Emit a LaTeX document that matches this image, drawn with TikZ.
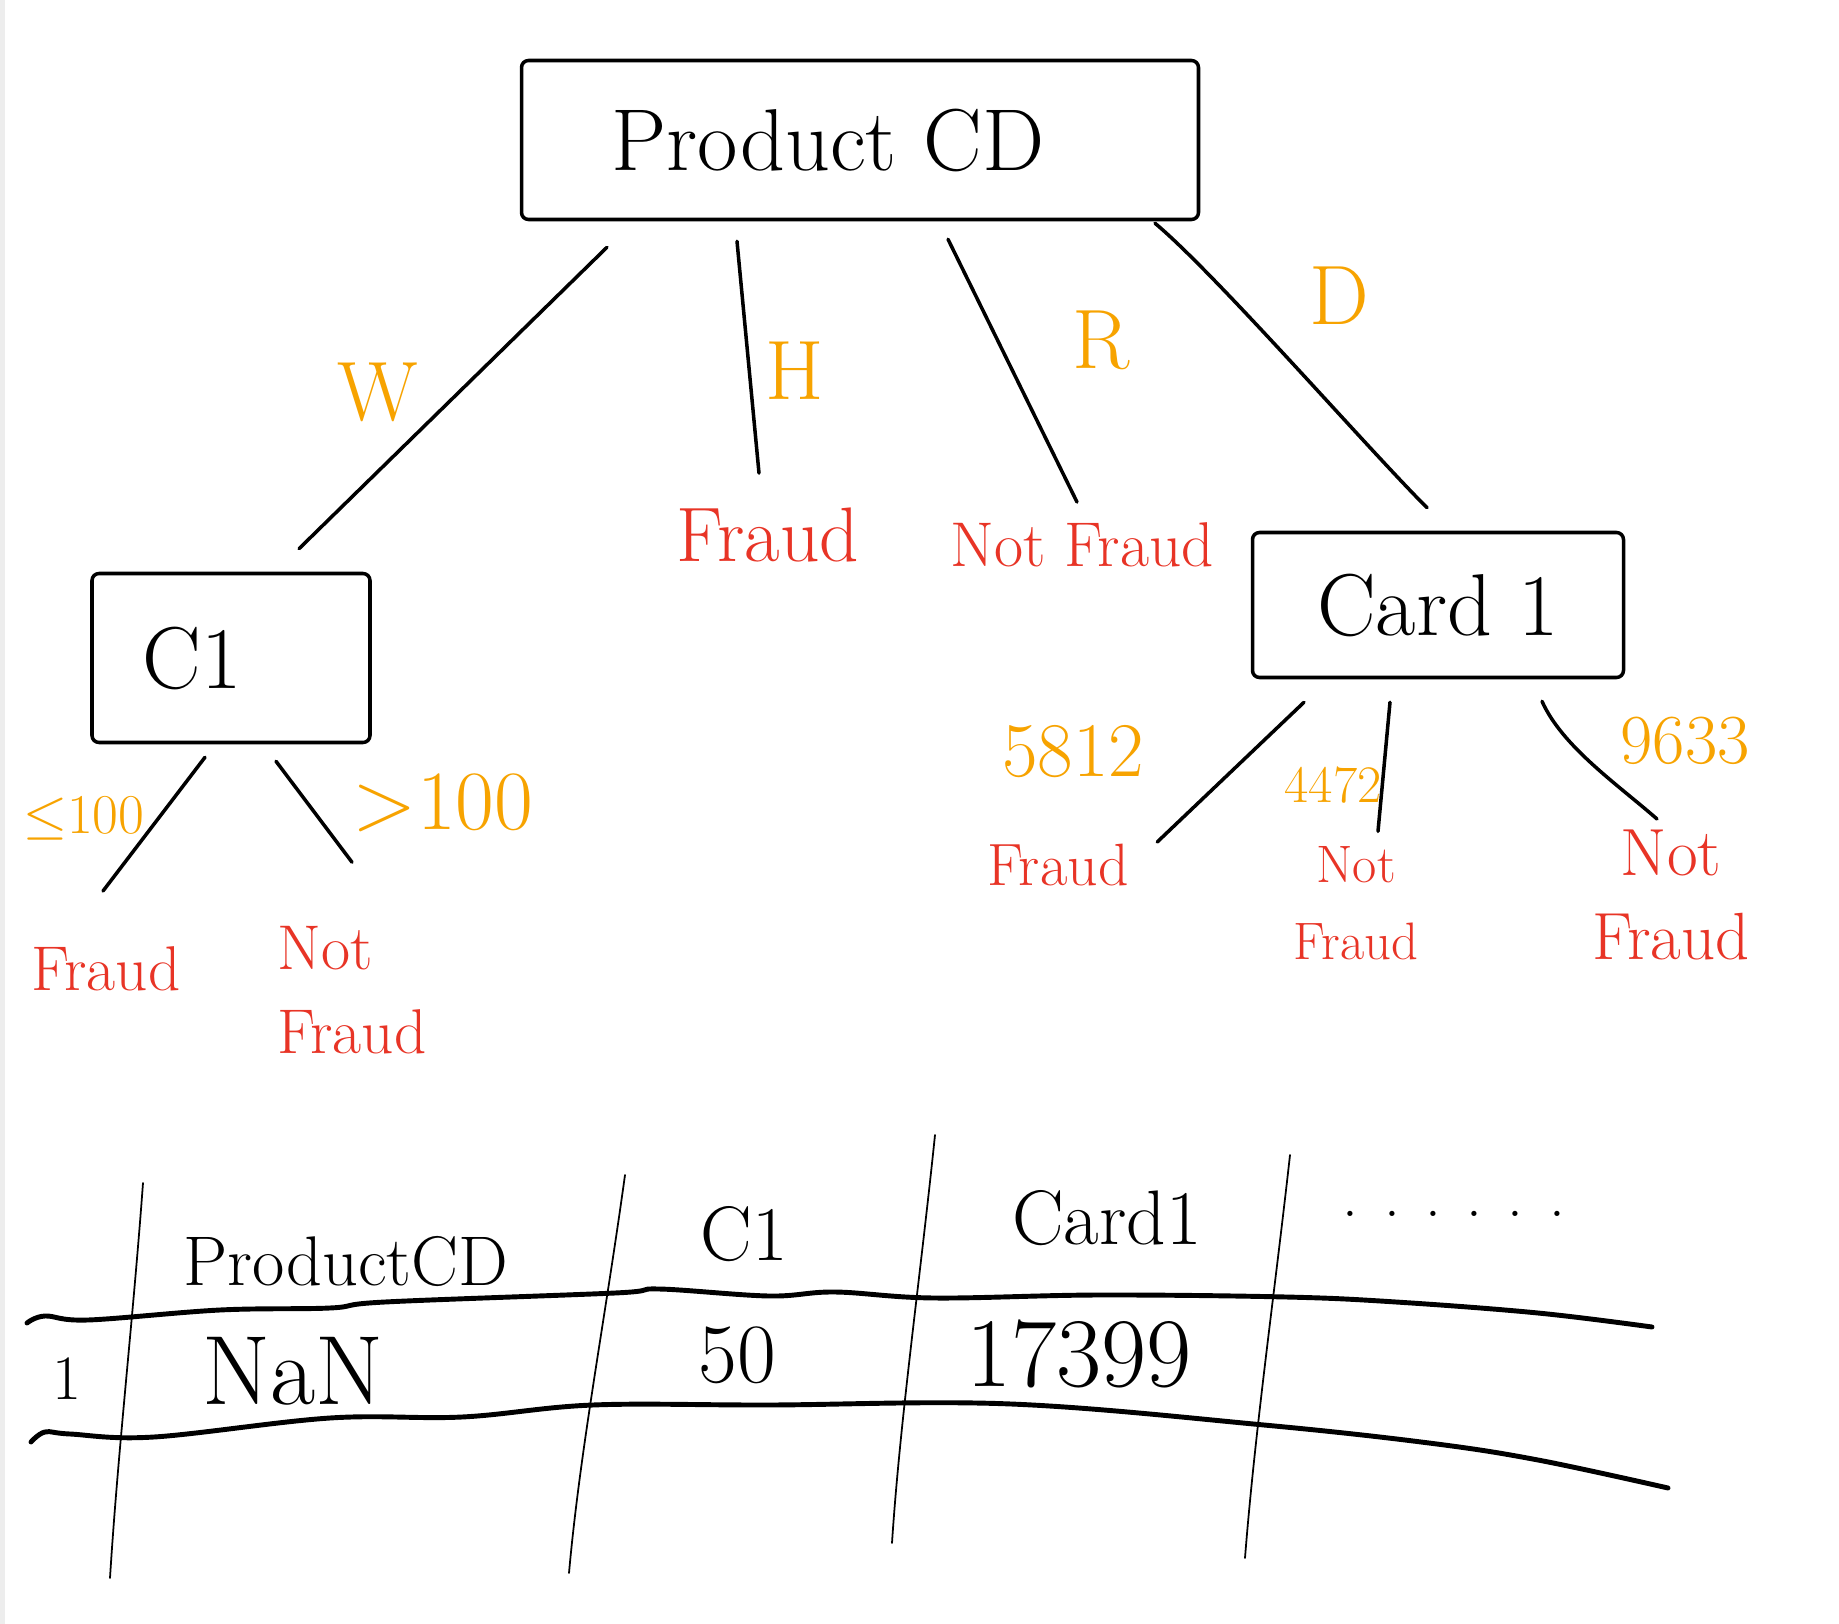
\documentclass[tikz,border=0pt]{standalone}
\usepackage{unicode-math}
\usepackage{tikz}
\definecolor{splitorange}{RGB}{247, 163, 0}
\definecolor{leafred}{RGB}{232, 52, 38}
\definecolor{gray93}{gray}{0.93}

\begin{document}
\begin{tikzpicture}[x=0.1mm, y=-0.1mm, line width=1pt, line cap=round, line join=round,
    feature/.style={draw, rounded corners=2pt, inner sep=0pt, font=\fontsize{25}{30}\selectfont},
    cut/.style={text=splitorange, inner sep=0pt, font=\fontsize{24}{28}\selectfont},
    leaf/.style={text=leafred, inner sep=0pt, align=center, font=\fontsize{17}{22}\selectfont},
    cell/.style={inner sep=0pt, font=\fontsize{22}{26}\selectfont},
    rowrule/.style={line width=1.4pt},
    colrule/.style={line width=0.5pt}]
  \useasboundingbox (0, 0) rectangle (1839, 1624);
  \fill[white] (0, 0) rectangle (1839, 1624);
  \fill[gray93] (0, 0) rectangle (5, 1624);

  % the tree
  \node[feature, minimum width=67.7mm, minimum height=15.9mm] (pcd) at (860, 140) {Product CD\rule{6.4mm}{0pt}};
  \node[feature, minimum width=27.8mm, minimum height=16.9mm] (c1) at (231, 658) {C1\rule{7.8mm}{0pt}};
  \node[feature, minimum width=37.1mm, minimum height=14.5mm] (card) at (1438, 605) {Card 1};

  \node[leaf, font=\fontsize{22}{26}\selectfont] (fh) at (768, 535) {Fraud};
  \node[leaf, font=\fontsize{18}{22}\selectfont] (nf) at (1082, 545) {Not Fraud};
  \node[leaf, font=\fontsize{18}{22}\selectfont] (fl) at (106, 969) {Fraud};
  \node[leaf, align=left, font=\fontsize{18}{24}\selectfont] (nfl) at (352, 990) {Not\\Fraud};
  \node[leaf] (fc) at (1058, 865) {Fraud};
  \node[leaf, font=\fontsize{15}{22}\selectfont] (nfm) at (1356, 903) {Not\\Fraud};
  \node[leaf, font=\fontsize{19}{24}\selectfont] (nfr) at (1671, 895) {Not\\Fraud};

  \draw ([xshift=-25.3mm, yshift=-2.6mm]pcd.south) -- ([xshift=6.8mm, yshift=2.3mm]c1.north);
  \draw ([xshift=-12.3mm, yshift=-2mm]pcd.south) -- ([xshift=-0.9mm, yshift=3.3mm]fh.north);
  \draw ([xshift=8.8mm, yshift=-1.8mm]pcd.south) -- ([xshift=-0.5mm, yshift=1.9mm]nf.north);
  \draw ([xshift=29.5mm, yshift=-0.2mm]pcd.south) .. controls +(60, 50) and +(-60, -60) .. ([xshift=-1.1mm, yshift=2.3mm]card.north);

  \draw ([xshift=-2.6mm, yshift=-1.3mm]c1.south) -- ([xshift=-0.3mm, yshift=5.4mm]fl.north);
  \draw ([xshift=4.5mm, yshift=-1.7mm]c1.south) -- ([yshift=6.2mm]nfl.north);

  \draw ([xshift=-13.4mm, yshift=-2.3mm]card.south) -- ([xshift=2.7mm, yshift=2.3mm]fc.east);
  \draw ([xshift=-4.8mm, yshift=-2.3mm]card.south) -- ([xshift=2.2mm, yshift=1.3mm]nfm.north);
  \draw ([xshift=10.4mm, yshift=-2.2mm]card.south) .. controls +(20, 45) and +(-40, -35) .. ([xshift=-1.4mm, yshift=0.9mm]nfr.north);

  \node[cut] (w) at (378, 392) {W};
  \node[cut] (h) at (795, 371) {H};
  \node[cut] (r) at (1101, 340) {R};
  \node[cut] (d) at (1339, 296) {D};
  \node[cut, font=\fontsize{16}{20}\selectfont] (le) at (84, 818) {$\leq$100};
  \node[cut] (gt) at (443, 803) {>100};
  \node[cut, font=\fontsize{22}{26}\selectfont] (v5812) at (1073, 752) {5812};
  \node[cut, font=\fontsize{15}{18}\selectfont] (v4472) at (1333, 785) {4472};
  \node[cut, font=\fontsize{20}{24}\selectfont] (v9633) at (1685, 741) {9633};

  % the table
  \draw[rowrule] plot[smooth, tension=0.6] coordinates {(27, 1323) (45, 1316) (88, 1320) (220, 1310) (330, 1308)
    (385, 1302) (615, 1293) (659, 1289) (769, 1296) (835, 1292) (934, 1298) (1099, 1295) (1286, 1297)
    (1396, 1302) (1538, 1313) (1652, 1327)};
  \draw[rowrule] plot[smooth, tension=0.6] coordinates {(31, 1442) (45, 1432) (70, 1434) (154, 1437) (330, 1418)
    (462, 1417) (593, 1405) (769, 1405) (1011, 1404) (1264, 1425) (1429, 1443) (1538, 1460) (1668, 1488)};
  \draw[colrule] (143, 1183) .. controls (133, 1320) and (118, 1450) .. (110, 1578);
  \draw[colrule] (625, 1175) .. controls (605, 1320) and (580, 1450) .. (569, 1573);
  \draw[colrule] (935, 1135) .. controls (920, 1280) and (900, 1420) .. (892, 1543);
  \draw[colrule] (1290, 1155) .. controls (1275, 1290) and (1255, 1430) .. (1245, 1558);

  \node[cell, font=\fontsize{20}{24}\selectfont] (hprod) at (346, 1261) {ProductCD};
  \node[cell] (hc1) at (744, 1234) {C1};
  \node[cell] (hcard) at (1107, 1218) {Card1};
  \node[cell, font=\fontsize{18}{22}\selectfont] (hmore) at (1454, 1214) {. . . . . .};
  \node[cell, font=\fontsize{18}{22}\selectfont] (row) at (67, 1379) {1};
  \node[cell, font=\fontsize{28}{32}\selectfont] (nan) at (293, 1371) {NaN};
  \node[cell, font=\fontsize{24}{28}\selectfont] (c1val) at (737, 1355) {50};
  \node[cell, font=\fontsize{28}{32}\selectfont] (cardval) at (1079, 1354) {17399};

\end{tikzpicture}
\end{document}
